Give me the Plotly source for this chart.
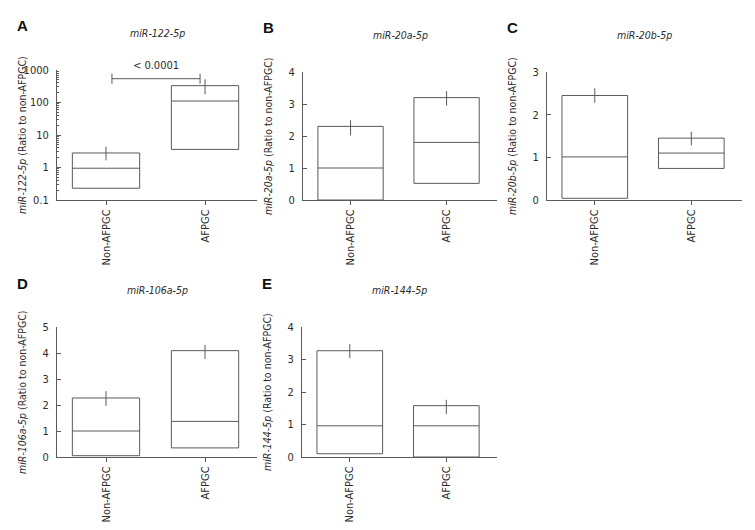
import plotly.graph_objects as go

categories = ["Non-AFPGC", "AFPGC"]
cat_pos = [0, 1]

panel_letters = ["A", "B", "C", "D", "E"]
mirnas = ["miR-122-5p", "miR-20a-5p", "miR-20b-5p", "miR-106a-5p", "miR-144-5p"]

box_low = [[0.23, 3.6], [0.0, 0.52], [0.04, 0.74], [0.05, 0.35], [0.10, 0.0]]
box_median = [[0.95, 111], [1.0, 1.8], [1.01, 1.1], [1.0, 1.37], [0.96, 0.96]]
box_high = [[2.8, 330], [2.3, 3.2], [2.45, 1.45], [2.27, 4.09], [3.27, 1.58]]
err_low = [[1.65, 178], [2.02, 2.95], [2.28, 1.28], [1.97, 3.77], [3.05, 1.32]]
err_high = [[4.4, 517], [2.49, 3.40], [2.62, 1.60], [2.53, 4.31], [3.47, 1.76]]

y_max = [1000, 4, 3, 5, 4]
y_dtick = [1, 1, 1, 1, 1]
p_text = "< 0.0001"
p_bracket_y = 540

W, H = 755, 530
# pixel domains [x0, x1, ytop, ybottom]
doms = [(57, 257, 70, 200), (303, 497, 72, 200), (547, 742, 72, 200),
        (57, 257, 327, 457), (302, 497, 327, 457)]

LINE = "#5a5a5a"
TXT = "#2b2b2b"
FONT = "DejaVu Sans Condensed, DejaVu Sans"
BW = 0.68

fig = go.Figure()
annotations = []

for i in range(5):
    ax = "" if i == 0 else str(i + 1)
    xa, ya = "x" + ax, "y" + ax
    x0, x1, yt, yb = doms[i]
    logy = (i == 0)
    lows, highs = box_low[i], box_high[i]
    fig.add_trace(go.Bar(
        x=cat_pos, y=[h - l for h, l in zip(highs, lows)], base=lows,
        width=BW, marker=dict(color="white", line=dict(color=LINE, width=1)),
        xaxis=xa, yaxis=ya, showlegend=False, hoverinfo="skip"))
    mx, my = [], []
    for c, m in zip(cat_pos, box_median[i]):
        mx += [c - BW / 2, c + BW / 2, None]
        my += [m, m, None]
    fig.add_trace(go.Scatter(x=mx, y=my, mode="lines", line=dict(color=LINE, width=1),
                             xaxis=xa, yaxis=ya, showlegend=False, hoverinfo="skip"))
    ex, ey = [], []
    for c, lo, hi in zip(cat_pos, err_low[i], err_high[i]):
        ex += [c, c, None]
        ey += [lo, hi, None]
    fig.add_trace(go.Scatter(x=ex, y=ey, mode="lines", line=dict(color=LINE, width=1),
                             xaxis=xa, yaxis=ya, showlegend=False, hoverinfo="skip",
                             cliponaxis=False))

    xdom = [x0 / W, x1 / W]
    ydom = [1 - yb / H, 1 - yt / H]
    xaxis = dict(domain=xdom, anchor=ya, range=[-0.495, 1.525], tickvals=cat_pos,
                 ticktext=categories, tickangle=-90, ticks="outside", ticklen=4,
                 tickcolor=LINE, showline=True, linecolor=LINE, linewidth=1,
                 showgrid=False, zeroline=False, fixedrange=True, automargin=False,
                 tickfont=dict(family=FONT, size=11, color=TXT))
    if logy:
        yaxis = dict(domain=ydom, anchor=xa, type="log", range=[-1, 3], dtick=1,
                     tickvals=[0.1, 1, 10, 100, 1000], ticktext=["0.1", "1", "10", "100", "1000"],
                     minor=dict(ticks="inside", ticklen=2, tickcolor=LINE, dtick="D1", showgrid=False))
    else:
        yaxis = dict(domain=ydom, anchor=xa, range=[0, y_max[i]], dtick=y_dtick[i])
    yaxis.update(ticks="inside", ticklen=4, tickcolor=LINE, showline=True, linecolor=LINE,
                 linewidth=1, showgrid=False, zeroline=False, fixedrange=True,
                 ticklabelstandoff=5, automargin=False,
                 tickfont=dict(family=FONT, size=11, color=TXT))
    fig.update_layout(**{"xaxis" + ax: xaxis, "yaxis" + ax: yaxis})

    # panel title
    annotations.append(dict(text="<i>" + mirnas[i] + "</i>", xref="paper", yref="paper",
                            x=(x0 + x1) / 2 / W, y=1 - (yt - 37) / H, showarrow=False,
                            font=dict(family=FONT, size=10.5, color=TXT), xanchor="center", yanchor="middle"))
    # panel letter
    annotations.append(dict(text="<b>" + panel_letters[i] + "</b>", xref="paper", yref="paper",
                            x=(x0 - 35) / W, y=1 - (yt - 44) / H, showarrow=False,
                            font=dict(family="Liberation Sans", size=15, color="#111111"),
                            xanchor="center", yanchor="middle"))
    # y title
    annotations.append(dict(text="<i>" + mirnas[i] + "</i> (Ratio to non-AFPGC)", xref="paper",
                            yref="paper", x=(x0 - 35) / W, y=1 - ((yt + yb) / 2) / H,
                            textangle=-90, showarrow=False,
                            font=dict(family=FONT, size=10.5, color=TXT),
                            xanchor="center", yanchor="middle"))

# significance bracket on panel A
bx0, bx1 = 0.06, 0.95
fig.add_trace(go.Scatter(x=[bx0, bx0, None, bx0, bx1, None, bx1, bx1],
                         y=[p_bracket_y * 0.7, p_bracket_y * 1.42, None, p_bracket_y, p_bracket_y, None,
                            p_bracket_y * 0.7, p_bracket_y * 1.42],
                         mode="lines", line=dict(color=LINE, width=1), xaxis="x", yaxis="y",
                         showlegend=False, hoverinfo="skip", cliponaxis=False))
x0A, x1A, ytA, ybA = doms[0]
unit_px = (x1A - x0A) / (1.525 + 0.495)
annotations.append(dict(text=p_text, x=(x0A + (0.495 + (bx0 + bx1) / 2) * unit_px) / W,
                        y=1 - 65.5 / H, xref="paper", yref="paper",
                        showarrow=False, font=dict(family=FONT, size=11, color=TXT),
                        xanchor="center", yanchor="middle"))

fig.update_layout(width=W, height=H, margin=dict(l=0, r=0, t=0, b=0, autoexpand=False),
                  plot_bgcolor="white", paper_bgcolor="white", annotations=annotations,
                  barmode="overlay", showlegend=False)

fig.write_html("out.html", config={"displayModeBar": False, "staticPlot": True},
               post_script="document.body.style.margin='0';document.body.style.overflow='hidden';")
